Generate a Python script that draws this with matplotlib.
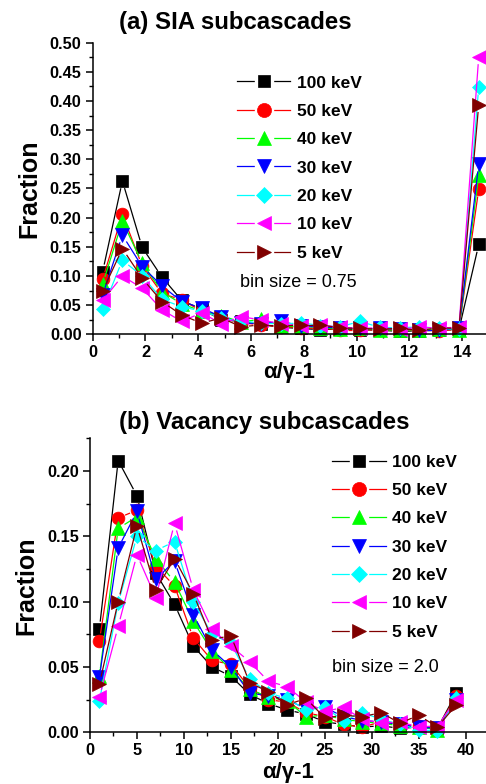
import matplotlib
matplotlib.use("Agg")
import numpy as np
import matplotlib.pyplot as plt
from matplotlib.lines import Line2D
from matplotlib.legend_handler import HandlerTuple
from matplotlib.ticker import MultipleLocator, FormatStrFormatter

plt.rcParams['font.family'] = ['Liberation Sans', 'DejaVu Sans']

# ---- data -------------------------------------------------------------
energies = ["100 keV", "50 keV", "40 keV", "30 keV", "20 keV", "10 keV", "5 keV"]
colors = ["#000000", "#ff0000", "#00ff00", "#0000ff", "#00ffff", "#ff00ff", "#800000"]
markers = ["s", "o", "^", "v", "D", "<", ">"]
msizes = [8.4, 9.2, 9.8, 9.8, 7.2, 9.8, 9.8]

# (a) SIA subcascades, bin size 0.75
sia_x = [0.375, 1.125, 1.875, 2.625, 3.375, 4.125, 4.875, 5.625, 6.375, 7.125,
         7.875, 8.625, 9.375, 10.125, 10.875, 11.625, 12.375, 13.125, 13.875, 14.625]
sia_100 = [0.107, 0.263, 0.149, 0.098, 0.058, 0.043, 0.025, 0.022, 0.017, 0.012,
           0.010, 0.008, 0.009, 0.008, 0.007, 0.005, 0.006, 0.007, 0.008, 0.154]
sia_50 = [0.094, 0.206, 0.117, 0.070, 0.059, 0.040, 0.028, 0.020, 0.016, 0.013,
          0.011, 0.010, 0.008, 0.008, 0.007, 0.008, 0.007, 0.006, 0.009, 0.249]
sia_40 = [0.086, 0.194, 0.122, 0.073, 0.052, 0.040, 0.032, 0.021, 0.026, 0.014,
          0.014, 0.011, 0.009, 0.010, 0.008, 0.007, 0.008, 0.009, 0.008, 0.273]
sia_30 = [0.067, 0.170, 0.116, 0.083, 0.056, 0.045, 0.030, 0.020, 0.018, 0.022,
          0.015, 0.012, 0.011, 0.010, 0.010, 0.009, 0.008, 0.008, 0.010, 0.292]
sia_20 = [0.043, 0.127, 0.100, 0.060, 0.047, 0.040, 0.028, 0.022, 0.020, 0.017,
          0.020, 0.015, 0.013, 0.022, 0.012, 0.011, 0.013, 0.010, 0.009, 0.424]
sia_10 = [0.058, 0.100, 0.079, 0.042, 0.022, 0.037, 0.018, 0.030, 0.025, 0.018,
          0.014, 0.016, 0.012, 0.010, 0.011, 0.009, 0.012, 0.011, 0.012, 0.476]
sia_5 = [0.074, 0.147, 0.096, 0.056, 0.033, 0.019, 0.028, 0.013, 0.016, 0.014,
         0.016, 0.016, 0.011, 0.010, 0.009, 0.010, 0.007, 0.011, 0.010, 0.394]

# (b) Vacancy subcascades, bin size 2.0
vac_x = [1, 3, 5, 7, 9, 11, 13, 15, 17, 19, 21, 23, 25, 27, 29, 31, 33, 35, 37, 39]
vac_100 = [0.079, 0.208, 0.181, 0.122, 0.098, 0.066, 0.050, 0.043, 0.029, 0.022,
           0.017, 0.014, 0.008, 0.006, 0.004, 0.005, 0.003, 0.004, 0.003, 0.030]
vac_50 = [0.070, 0.164, 0.170, 0.127, 0.112, 0.072, 0.055, 0.052, 0.034, 0.025,
          0.023, 0.015, 0.012, 0.006, 0.004, 0.008, 0.006, 0.005, 0.003, 0.028]
vac_40 = [0.043, 0.156, 0.165, 0.133, 0.115, 0.085, 0.062, 0.048, 0.033, 0.027,
          0.024, 0.012, 0.013, 0.010, 0.008, 0.007, 0.005, 0.004, 0.002, 0.027]
vac_30 = [0.042, 0.141, 0.169, 0.117, 0.131, 0.090, 0.063, 0.050, 0.030, 0.028,
          0.025, 0.018, 0.019, 0.012, 0.009, 0.008, 0.006, 0.004, 0.003, 0.025]
vac_20 = [0.024, 0.099, 0.150, 0.139, 0.146, 0.100, 0.075, 0.068, 0.041, 0.030,
          0.026, 0.017, 0.019, 0.009, 0.015, 0.010, 0.006, 0.002, 0.001, 0.026]
vac_10 = [0.027, 0.081, 0.136, 0.103, 0.160, 0.109, 0.079, 0.066, 0.054, 0.039,
          0.035, 0.023, 0.016, 0.019, 0.010, 0.007, 0.008, 0.004, 0.005, 0.025]
vac_5 = [0.037, 0.100, 0.158, 0.109, 0.133, 0.106, 0.071, 0.074, 0.038, 0.031,
         0.021, 0.026, 0.011, 0.013, 0.012, 0.015, 0.007, 0.013, 0.004, 0.021]

sia_series = [sia_100, sia_50, sia_40, sia_30, sia_20, sia_10, sia_5]
vac_series = [vac_100, vac_50, vac_40, vac_30, vac_20, vac_10, vac_5]

# ---- figure -----------------------------------------------------------
W, H = 486, 784
fig = plt.figure(figsize=(W / 100, H / 100), dpi=100)
LINE_GAP = 7.5  # pixels of empty space between a connecting line and its symbol


def px_axes(left, top, right, bottom):
    return fig.add_axes([left / W, 1 - bottom / H, (right - left) / W, (bottom - top) / H])


def style_axes(ax):
    for side in ("top", "right"):
        ax.spines[side].set_visible(False)
    for side in ("left", "bottom"):
        ax.spines[side].set_linewidth(1.1)
    ax.tick_params(which="major", direction="out", length=5, width=1.1,
                   labelsize=11.8, pad=3)
    ax.tick_params(which="minor", direction="out", length=3, width=1.0)
    for lab in ax.get_xticklabels() + ax.get_yticklabels():
        lab.set_fontweight("bold")


def gapped_line(ax, xs, ys, color):
    """Connect the points with segments that stop short of each symbol."""
    pts = ax.transData.transform(np.column_stack([xs, ys]))
    inv = ax.transData.inverted()
    for p0, p1 in zip(pts[:-1], pts[1:]):
        d = p1 - p0
        n = np.hypot(*d)
        if n <= 2 * LINE_GAP + 1:
            continue
        u = d / n
        seg = inv.transform(np.array([p0 + u * LINE_GAP, p1 - u * LINE_GAP]))
        ax.plot(seg[:, 0], seg[:, 1], color=color, lw=0.9, clip_on=False,
                solid_capstyle="butt")


def draw_panel(ax, xs, series):
    for ys, c, m, ms in zip(series, colors, markers, msizes):
        gapped_line(ax, xs, ys, c)
        ax.plot(xs, ys, ls="none", marker=m, markersize=ms,
                markerfacecolor=c, markeredgecolor=c, markeredgewidth=0.5,
                clip_on=False)


def legend_handles():
    handles = []
    for c, m, ms in zip(colors, markers, msizes):
        line = Line2D([], [], color=c, lw=0.9)
        mask = Line2D([], [], ls="none", marker="s", markersize=13.0,
                      markerfacecolor="white", markeredgecolor="white")
        sym = Line2D([], [], ls="none", marker=m, markersize=ms * 1.1,
                     markerfacecolor=c, markeredgecolor=c, markeredgewidth=0.5)
        handles.append((line, mask, sym))
    return handles


def add_legend(ax, anchor):
    ax.legend(legend_handles(), energies, loc="upper left", bbox_to_anchor=anchor,
              frameon=False, prop={"weight": "bold", "size": 12.5}, numpoints=1,
              handler_map={tuple: HandlerTuple(ndivide=1, pad=0)},
              handlelength=3.1, handletextpad=0.35, labelspacing=0.76,
              borderpad=0, borderaxespad=0)


# panel (a)
ax1 = px_axes(92.7, 42.7, 486, 334.3)
ax1.set_xlim(0, 14.9)
ax1.set_ylim(0, 0.5)
draw_panel(ax1, sia_x, sia_series)
ax1.xaxis.set_major_locator(MultipleLocator(2))
ax1.xaxis.set_minor_locator(MultipleLocator(1))
ax1.yaxis.set_major_locator(MultipleLocator(0.05))
ax1.yaxis.set_minor_locator(MultipleLocator(0.025))
ax1.yaxis.set_major_formatter(FormatStrFormatter("%.2f"))
style_axes(ax1)
ax1.set_ylabel("Fraction", fontsize=18, fontweight="bold", labelpad=6)
ax1.set_xlabel("α/γ-1", fontsize=16, fontweight="bold", labelpad=1)
add_legend(ax1, (0.366, 0.888))
ax1.text(0.375, 0.176, "bin size = 0.75", transform=ax1.transAxes,
         fontsize=13, va="center", ha="left")
fig.text(235 / W, 1 - 22 / H, "(a) SIA subcascades", fontsize=17.3,
         fontweight="bold", ha="center", va="center")

# panel (b)
ax2 = px_axes(90, 438.3, 486, 732.3)
ax2.set_xlim(0, 42.17)
ax2.set_ylim(0, 0.225)
draw_panel(ax2, vac_x, vac_series)
ax2.xaxis.set_major_locator(MultipleLocator(5))
ax2.xaxis.set_minor_locator(MultipleLocator(2.5))
ax2.yaxis.set_major_locator(MultipleLocator(0.05))
ax2.yaxis.set_minor_locator(MultipleLocator(0.025))
ax2.yaxis.set_major_formatter(FormatStrFormatter("%.2f"))
style_axes(ax2)
ax2.set_ylabel("Fraction", fontsize=18, fontweight="bold", labelpad=6)
ax2.set_xlabel("α/γ-1", fontsize=16, fontweight="bold", labelpad=2.5)
add_legend(ax2, (0.611, 0.945))
ax2.text(0.611, 0.222, "bin size = 2.0", transform=ax2.transAxes,
         fontsize=13, va="center", ha="left")
fig.text(264 / W, 1 - 423 / H, "(b) Vacancy subcascades", fontsize=17.3,
         fontweight="bold", ha="center", va="center")

fig.savefig("out.png", dpi=100)
